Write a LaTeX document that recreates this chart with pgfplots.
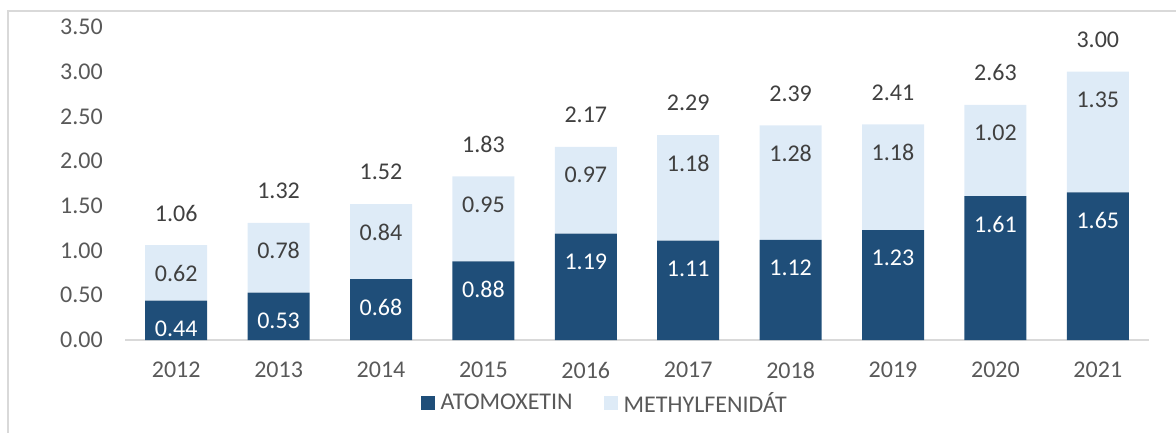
\documentclass[border=0pt]{standalone}
\usepackage{pgfplots}
\pgfplotsset{compat=1.18}
\usepackage{fontspec}
\setmainfont{Carlito}
\definecolor{dark}{HTML}{1F4E79}
\definecolor{light}{HTML}{DEEBF7}
\definecolor{tickgray}{HTML}{595959}
\definecolor{labgray}{HTML}{404040}
\definecolor{linegray}{HTML}{D9D9D9}
\newcommand{\bigf}{\fontsize{24}{29}\selectfont}
\pgfplotsset{/pgf/number format/assume math mode=true,
  lab/.style={only marks, mark=none, point meta=explicit,
    nodes near coords={\pgfmathprintnumber[fixed,fixed zerofill,precision=2]{\pgfplotspointmeta}}}}
\begin{document}
\begin{tikzpicture}
\path[use as bounding box] (0pt,0pt) rectangle (1176pt,432pt);
\draw[linegray, line width=1.3pt] (8pt,-5pt) -- (8pt,421pt) -- (1185pt,421pt);
\begin{axis}[
  at={(125pt,92pt)}, anchor=south west,
  scale only axis, width=1024pt, height=313pt,
  ybar stacked, bar width=62pt,
  xmin=-0.5, xmax=9.5, ymin=0, ymax=3.5,
  xtick={0,1,2,3,4,5,6,7,8,9},
  xticklabels={2012,2013,2014,2015,2016,2017,2018,2019,2020,2021},
  ytick={0,0.5,1,1.5,2,2.5,3,3.5},
  yticklabel style={/pgf/number format/.cd, fixed, fixed zerofill, precision=2, /tikz/.cd, anchor=east, xshift=-22pt, inner sep=0pt, font=\bigf, text=tickgray},
  xticklabel style={anchor=center, yshift=-30pt, font=\bigf, text=tickgray},
  axis x line*=bottom, axis y line*=left,
  y axis line style={draw=none},
  x axis line style={draw=linegray, line width=1.5pt, -},
  major tick length=0pt, tick style={draw=none},
  clip=false,
  legend style={at={(0.469,-0.201)}, anchor=center, draw=none, fill=none,
    legend columns=2, font=\bigf, text=tickgray,
    /tikz/every odd column/.append style={column sep=3pt},
    /tikz/every even column/.append style={column sep=28pt},
    nodes={inner sep=3pt}},
  legend image code/.code={\fill[#1] (0pt,-7pt) rectangle (14pt,7pt);},
]
\addplot[fill=dark, draw=none]
  coordinates {(0,0.44) (1,0.53) (2,0.68) (3,0.88) (4,1.19)
               (5,1.11) (6,1.12) (7,1.23) (8,1.61) (9,1.65)};
\addplot[fill=light, draw=none]
  coordinates {(0,0.62) (1,0.78) (2,0.84) (3,0.95) (4,0.97)
               (5,1.18) (6,1.28) (7,1.18) (8,1.02) (9,1.35)};
\legend{ATOMOXETIN, METHYLFENIDÁT}
\end{axis}
\begin{axis}[
  at={(125pt,92pt)}, anchor=south west,
  scale only axis, width=1024pt, height=313pt,
  xmin=-0.5, xmax=9.5, ymin=0, ymax=3.5,
  hide axis, clip=false,
]
% labels of the dark segments (at the segment tops)
\addplot[lab, nodes near coords style={anchor=center, yshift=-28pt, text=white, font=\bigf}]
  coordinates {(0,0.44)[0.44] (1,0.53)[0.53] (2,0.68)[0.68] (3,0.88)[0.88] (4,1.19)[1.19]
               (5,1.11)[1.11] (6,1.12)[1.12] (7,1.23)[1.23] (8,1.61)[1.61] (9,1.65)[1.65]};
% labels of the light segments (at the stack tops)
\addplot[lab, nodes near coords style={anchor=center, yshift=-28pt, text=labgray, font=\bigf}]
  coordinates {(0,1.06)[0.62] (1,1.31)[0.78] (2,1.52)[0.84] (3,1.83)[0.95] (4,2.16)[0.97]
               (5,2.29)[1.18] (6,2.40)[1.28] (7,2.41)[1.18] (8,2.63)[1.02] (9,3.00)[1.35]};
% totals above the stacks
\addplot[lab, nodes near coords style={anchor=center, yshift=32pt, text=labgray, font=\bigf}]
  coordinates {(0,1.06)[1.06] (1,1.31)[1.32] (2,1.52)[1.52] (3,1.83)[1.83] (4,2.16)[2.17]
               (5,2.29)[2.29] (6,2.40)[2.39] (7,2.41)[2.41] (8,2.63)[2.63] (9,3.00)[3.00]};
\end{axis}
\end{tikzpicture}
\end{document}
